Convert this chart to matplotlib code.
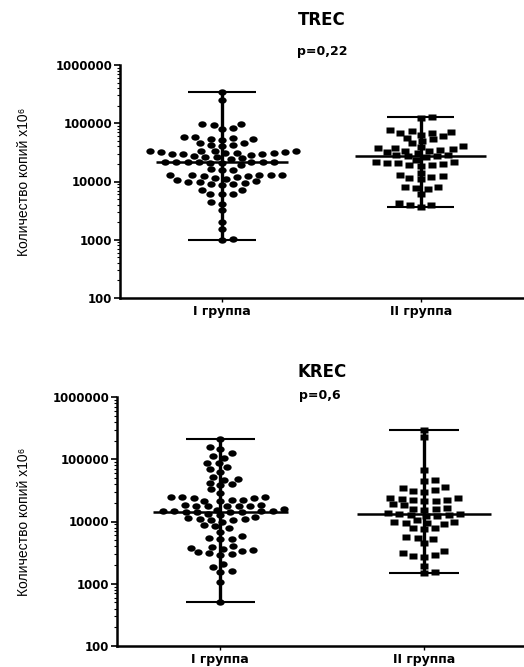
import numpy as np
import matplotlib
matplotlib.use('Agg')
import matplotlib.pyplot as plt
from matplotlib.path import Path
from matplotlib.transforms import Affine2D
from matplotlib.ticker import LogLocator, FuncFormatter, NullFormatter

W, H = 524, 667

groups = ['I группа', 'II группа']
titles = ['TREC', 'KREC']
p_labels = ['p=0,22', 'p=0,6']
ylabel = 'Количество копий x10⁶'
yticks = [100, 1000, 10000, 100000, 1000000]

# TREC, copies
trec_1 = [340000, 250000,
          98000, 93000, 96000, 82000, 79000,
          57000, 54000, 52000, 55000, 58000, 53000,
          45000, 42000, 40000, 43000, 46000,
          33000, 32000, 31000, 30500, 30000, 29500, 29000, 30000, 31000, 32000, 33000, 34000, 33500,
          27000, 26000, 25000, 24500, 26500,
          22000, 22000, 21500, 21000, 22000, 21500, 22000, 21000, 22000,
          19000,
          16000, 15500, 16500,
          13000, 13000, 12800, 12500, 12000, 11500, 11000, 10800, 12500, 13000, 13000,
          10000, 10200, 9800, 9500, 9000, 8800, 9200,
          7200, 7100, 6000, 6100, 6200,
          4500, 4100, 3200, 2050, 1500, 1000, 1050]
trec_2 = [130000, 122000,
          76000, 74000, 72000, 69000, 67000, 64000, 60000, 56000, 53000, 50000,
          45000,
          40000, 39000, 38000, 37000, 36000, 35000, 34000, 33000, 32000, 31000,
          29000, 28000, 27500, 27000, 26000,
          23000, 22000, 21500, 21000, 20500, 20000, 19500, 19000, 18500,
          14000, 13000, 12500, 12000, 11500, 11000,
          8200, 8000, 7800, 7500, 6200,
          4300, 4000, 3900, 3600]
trec_median = [21600, 27700]

# KREC, copies
krec_1 = [215000, 160000, 146000, 124000, 112000, 105000, 88000, 86000, 74000, 69000, 62000,
          52000, 47000, 48000, 42000, 40000, 38000,
          33000, 29000,
          25000, 24500, 24000, 24500, 24000,
          22000, 21500, 22000, 21500,
          18500, 18000, 17500, 18000, 17500, 18000, 18500,
          16000, 15500, 15000, 14500, 14400, 14200, 14000, 14000, 14500, 15000,
          13000, 12500, 12000,
          11500, 11000, 10500, 10000, 10500, 11000,
          8800, 8400, 8000, 6900,
          5800, 5500, 5300, 5200,
          4000, 3900, 3800, 3600, 3500, 3300, 3200, 3100, 3000, 2900,
          2100, 1850, 1600, 1550, 1050, 500]
krec_2 = [300000, 230000, 66000,
          47000, 45000, 36000, 35000, 32000, 31000, 30000,
          24000, 23500, 23000, 22500, 22000, 21500, 21000,
          19000, 18500, 16500, 16000, 16000, 15500,
          13500, 13000, 13000, 12800, 12600, 12400, 12200,
          10500, 10000, 9800, 9500, 9300, 9000,
          8000, 7800, 7500,
          5600, 5400, 5200, 4500,
          3300, 3100, 2900, 2800, 2700,
          1900, 1550, 1470]
krec_median = [14400, 13000]

oval = Path.unit_circle().transformed(Affine2D().scale(1.3, 1.0))
rect = Path([(-1.3, -1), (1.3, -1), (1.3, 1), (-1.3, 1), (-1.3, -1)], closed=True)


def swarm(ax, x0, vals, w_px=11.5, h_px=6.0):
    # simple beeswarm in pixel space, returns x positions in data units
    tr = ax.transData
    ypx = tr.transform(np.column_stack([np.full(len(vals), x0), vals]))[:, 1]
    unit = tr.transform([[1, 0]])[0, 0] - tr.transform([[0, 0]])[0, 0]
    placed = []
    xs = np.zeros(len(vals))
    side = 1
    for i in np.argsort(ypx):
        y = ypx[i]
        cands = [0.0]
        for px, py in placed:
            dy = abs(py - y)
            if dy < h_px:
                dx = w_px * np.sqrt(1 - (dy / h_px) ** 2)
                cands += [px + dx, px - dx]
        cands.sort(key=lambda c: (round(abs(c), 3), c * side))
        for c in cands:
            if all(((c - px) / w_px) ** 2 + ((y - py) / h_px) ** 2 >= 0.999 for px, py in placed):
                break
        side = -side
        placed.append((c, y))
        xs[i] = x0 + c / unit
    return xs


fig = plt.figure(figsize=(W / 100, H / 100), dpi=100)

# left, right, top, bottom in pixels; x-limits
panels = [
    dict(box=(120, 524, 65, 298), xlim=(-0.513, 1.52), data=[trec_1, trec_2], med=trec_median,
         title=(322, 20), p=(322, 51)),
    dict(box=(117, 524, 397, 646), xlim=(-0.507, 1.49), data=[krec_1, krec_2], med=krec_median,
         title=(322, 372), p=(320, 395)),
]

for k, pn in enumerate(panels):
    l, r, t, b = pn['box']
    ax = fig.add_axes([l / W, 1 - b / H, (r - l) / W, (b - t) / H])
    ax.set_yscale('log')
    ax.set_ylim(100, 1000000)
    ax.set_xlim(*pn['xlim'])
    for s in ['top', 'right']:
        ax.spines[s].set_visible(False)
    ax.spines['left'].set_linewidth(1.8)
    ax.spines['bottom'].set_linewidth(1.8)

    for g, vals in enumerate(pn['data']):
        xs = swarm(ax, g, vals)
        mk = oval if g == 0 else rect
        ax.plot(xs, vals, ls='none', marker=mk, ms=6.0, color='black', mec='none')
        lo, hi = min(vals), max(vals)
        ax.vlines(g, lo, hi, color='black', lw=2.4)
        ax.hlines([lo, hi], g - 0.17, g + 0.17, color='black', lw=1.5)
        ax.hlines(pn['med'][g], g - 0.33, g + 0.33, color='black', lw=1.8)

    ax.yaxis.set_major_locator(LogLocator(base=10))
    ax.yaxis.set_minor_locator(LogLocator(base=10, subs=np.arange(2, 10)))
    ax.yaxis.set_minor_formatter(NullFormatter())
    ax.set_yticks(yticks)
    ax.yaxis.set_major_formatter(FuncFormatter(lambda v, pos: '%d' % v))
    ax.tick_params(axis='y', which='major', length=4, width=1.2, pad=1.5, labelsize=8.5)
    ax.tick_params(axis='y', which='minor', length=2.5, width=0.8)
    ax.set_xticks([0, 1])
    ax.set_xticklabels(groups)
    ax.tick_params(axis='x', length=3, width=1.0, pad=2, labelsize=9)
    for lab in ax.get_xticklabels() + ax.get_yticklabels():
        lab.set_fontweight('bold')

    ax.set_ylabel(ylabel, family=['Liberation Sans', 'DejaVu Sans'], fontsize=10)
    ax.yaxis.set_label_coords((31 - l) / (r - l), 0.5)

    tx, ty = pn['title']
    fig.text(tx / W, 1 - ty / H, titles[k], ha='center', va='center', fontsize=12, fontweight='bold')
    px, py = pn['p']
    fig.text(px / W, 1 - py / H, p_labels[k], ha='center', va='center', fontsize=9, fontweight='bold')

fig.savefig('out.png', dpi=100)
